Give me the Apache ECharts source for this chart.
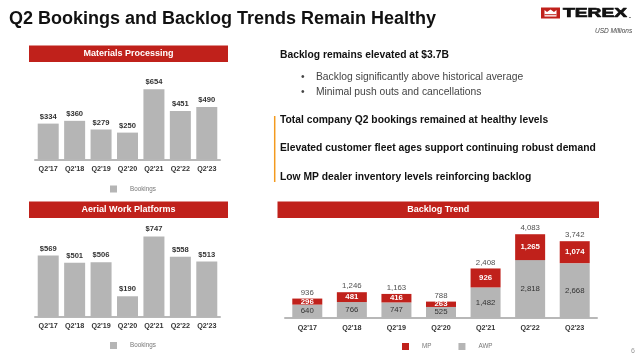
<!DOCTYPE html>
<html>
<head>
<meta charset="utf-8">
<script src="https://cdn.jsdelivr.net/npm/echarts@6/dist/echarts.min.js"></script>
<style>
html,body{margin:0;padding:0;background:#fff;}
#c{width:640px;height:356px;}
</style>
</head>
<body>
<div id="c"></div>
<script>
const categories = ["Q2'17","Q2'18","Q2'19","Q2'20","Q2'21","Q2'22","Q2'23"];
const mpBookings = [334, 360, 279, 250, 654, 451, 490];
const awpBookings = [569, 501, 506, 190, 747, 558, 513];
const backlogAWP = [640, 766, 747, 525, 1482, 2818, 2668];
const backlogMP = [296, 481, 416, 263, 926, 1265, 1074];
const backlogTotal = [936, 1246, 1163, 788, 2408, 4083, 3742];

const FONT = '"Liberation Sans", Arial, sans-serif';
const RED = '#c0211b';
const GRAY = '#b5b5b5';

function fmtNum(v){ return v.toLocaleString('en-US'); }

const chart = echarts.init(document.getElementById('c'), null, {renderer:'canvas'});

function txt(text, x, y, size, weight, color, extra){
  const el = {
    type:'text', x:x, y:y,
    style:{text:text, fontSize:size, fontWeight:weight, fontFamily:FONT, fill:color,
      textVerticalAlign:'middle', verticalAlign:'middle'}
  };
  if (extra) {
    if (extra.style) Object.assign(el.style, extra.style);
    Object.keys(extra).forEach(k => { if (k !== 'style') el[k] = extra[k]; });
  }
  return el;
}
function header(label, x, y, w, h){
  return [
    {type:'rect', shape:{x:x,y:y,width:w,height:h}, style:{fill:RED}},
    {type:'text', x:x+w/2, y:y+h/2, style:{text:label, fontSize:9, fontWeight:'bold', fontFamily:FONT, fill:'#fff', textAlign:'center', align:'center', textVerticalAlign:'middle', verticalAlign:'middle'}}
  ];
}

const xAxisCommon = {
  type:'category', data:categories,
  axisTick:{show:false},
  axisLine:{lineStyle:{color:'#b8b8b8', width:2}},
  axisLabel:{color:'#333', fontSize:7.2, fontWeight:'bold', fontFamily:FONT, margin:6, interval:0}
};
const yAxisCommon = {type:'value', min:0, show:false, splitLine:{show:false}};
const legendText = {color:'#777', fontSize:6.3, fontFamily:FONT, padding:[0,0,0,8]};

const option = {
  animation:false,
  backgroundColor:'#fff',
  textStyle:{fontFamily:FONT},
  grid:[
    {left:35, width:185, top:84.4, height:75},
    {left:35, width:185, top:230.7, height:86},
    {left:285, width:312, top:225.7, height:92}
  ],
  xAxis:[
    Object.assign({gridIndex:0}, xAxisCommon),
    Object.assign({gridIndex:1}, xAxisCommon),
    Object.assign({gridIndex:2}, xAxisCommon, {axisLabel:{color:'#333', fontSize:7.2, fontWeight:'bold', fontFamily:FONT, margin:7, interval:0}})
  ],
  yAxis:[
    Object.assign({gridIndex:0, max:700}, yAxisCommon),
    Object.assign({gridIndex:1, max:800}, yAxisCommon),
    Object.assign({gridIndex:2, max:4500}, yAxisCommon)
  ],
  legend:[
    {data:['Bookings'], left:105, top:180.5, icon:'rect', itemWidth:7, itemHeight:7,
     textStyle:legendText, selectedMode:false},
    {data:['Bookings '], left:105, top:337, icon:'rect', itemWidth:7, itemHeight:7,
     textStyle:legendText, selectedMode:false},
    {data:['MP','AWP'], left:397, top:338, icon:'rect', itemWidth:7, itemHeight:7, itemGap:27,
     textStyle:legendText, selectedMode:false}
  ],
  series:[
    {name:'Bookings', type:'bar', xAxisIndex:0, yAxisIndex:0, data:mpBookings, barWidth:21,
     itemStyle:{color:GRAY},
     label:{show:true, position:'top', distance:3, formatter:p=>'$'+p.value, color:'#333', fontSize:7.6, fontWeight:'bold', fontFamily:FONT}},
    {name:'Bookings ', type:'bar', xAxisIndex:1, yAxisIndex:1, data:awpBookings, barWidth:21,
     itemStyle:{color:GRAY},
     label:{show:true, position:'top', distance:3, formatter:p=>'$'+p.value, color:'#333', fontSize:7.6, fontWeight:'bold', fontFamily:FONT}},
    {name:'AWP', type:'bar', stack:'bl', xAxisIndex:2, yAxisIndex:2, data:backlogAWP, barWidth:30,
     itemStyle:{color:GRAY},
     label:{show:true, position:'inside', formatter:p=>fmtNum(p.value), color:'#333', fontSize:7.8, fontFamily:FONT}},
    {name:'MP', type:'bar', stack:'bl', xAxisIndex:2, yAxisIndex:2, data:backlogMP, barWidth:30,
     itemStyle:{color:RED},
     label:{show:true, position:'inside', formatter:p=>fmtNum(p.value), color:'#fff', fontSize:7.8, fontWeight:'bold', fontFamily:FONT}},
    {name:'Total', type:'scatter', xAxisIndex:2, yAxisIndex:2, data:backlogTotal, symbolSize:0.01,
     itemStyle:{color:'transparent'},
     label:{show:true, position:'top', distance:2, formatter:p=>fmtNum(p.value), color:'#222', fontSize:7.8, fontFamily:FONT}}
  ],
  graphic:[
    txt('Q2 Bookings and Backlog Trends Remain Healthy', 9, 19, 18, 'bold', '#111'),
    // logo
    {type:'rect', shape:{x:541,y:7.5,width:19,height:11}, style:{fill:RED}},
    {type:'polygon', shape:{points:[[544.5,16.5],[544.5,10],[547,12],[550.5,9.5],[554,12],[556.5,10],[556.5,16.5]]}, style:{fill:'#fff'}},
    {type:'rect', shape:{x:544.5,y:14.2,width:12,height:1}, style:{fill:RED}},
    txt('TEREX', 563, 13, 12.8, 'bold', '#111', {scaleX:1.5, scaleY:1, originX:0, originY:0, style:{stroke:'#111', lineWidth:0.7}}),
    txt('.', 629, 16, 7, 'bold', '#111'),
    txt('USD Millions', 595, 31.5, 6.5, 'normal', '#444', {style:{fontStyle:'italic'}}),
    ...header('Materials Processing', 29, 45.5, 199, 16.5),
    ...header('Aerial Work Platforms', 29, 201.5, 199, 16.5),
    ...header('Backlog Trend', 277.5, 201.5, 321.5, 16.5),
    // right text
    txt('Backlog remains elevated at $3.7B', 280, 55, 10.3, 'bold', '#111'),
    txt('•', 301, 77, 10.3, 'normal', '#444'),
    txt('Backlog significantly above historical average', 316, 77, 10.3, 'normal', '#444'),
    txt('•', 301, 92, 10.3, 'normal', '#444'),
    txt('Minimal push outs and cancellations', 316, 92, 10.3, 'normal', '#444'),
    {type:'line', shape:{x1:274.7,y1:116,x2:274.7,y2:182}, style:{stroke:'#f39a1e', lineWidth:1.5}},
    txt('Total company Q2 bookings remained at healthy levels', 280, 120, 10.3, 'bold', '#111'),
    txt('Elevated customer fleet ages support continuing robust demand', 280, 148.5, 10.3, 'bold', '#111'),
    txt('Low MP dealer inventory levels reinforcing backlog', 280, 177, 10.3, 'bold', '#111'),
    txt('6', 631, 351, 7, 'normal', '#999')
  ]
};
chart.setOption(option);
</script>
</body>
</html>
